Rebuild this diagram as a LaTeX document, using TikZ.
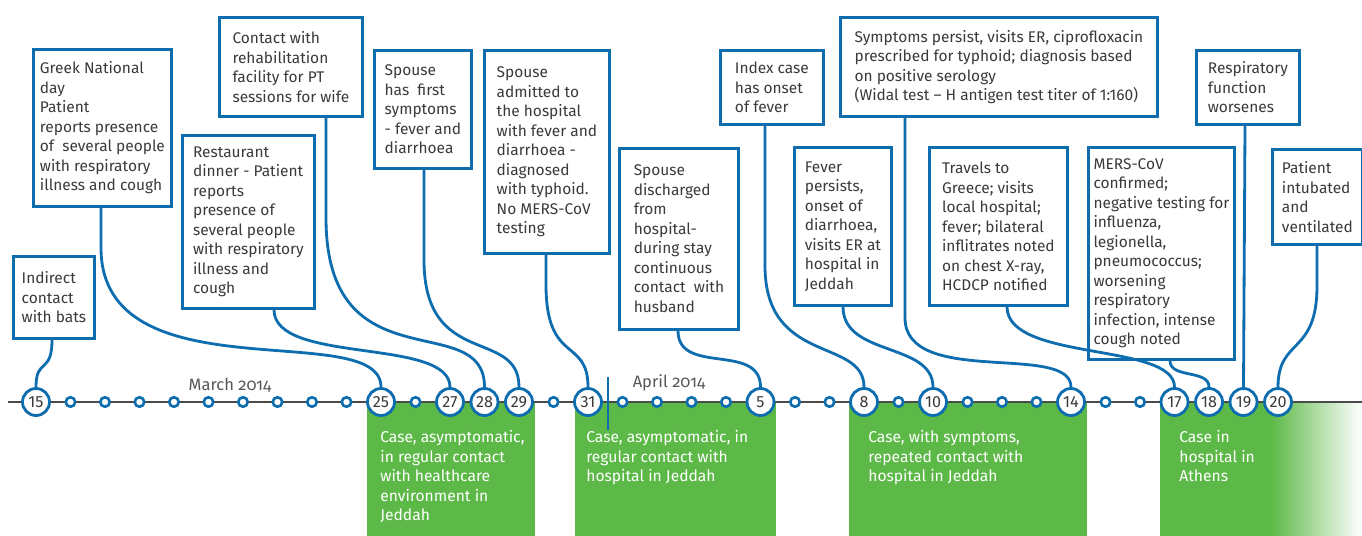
\documentclass[tikz,border=0pt]{standalone}
\usepackage{fontspec}
\setmainfont{Fira Sans}
\newfontfamily\oldstyle[Numbers=OldStyle]{Fira Sans}
\definecolor{lineblue}{HTML}{0E6DAF}
\definecolor{casegreen}{HTML}{5DB947}
\definecolor{textgrey}{HTML}{3A3A3A}
\definecolor{axisgrey}{HTML}{4A4A4A}
\tikzset{
  note/.style={
    draw=lineblue,
    line width=1.6pt,
    fill=white,
    anchor=north west,
    align=left,
    inner sep=0pt,
    text=textgrey,
    font=\fontsize{8.8}{11.1}\selectfont
  },
  boxdim/.style 2 args={minimum width=#1*0.02cm, minimum height=#2*0.02cm},
  day/.style={
    circle,
    draw=lineblue,
    fill=white,
    line width=1.6pt,
    minimum size=0.54cm,
    inner sep=0pt,
    text=textgrey,
    font=\fontsize{9.2}{11}\selectfont
  },
  smallday/.style={circle,draw=lineblue,fill=white,line width=1.5pt,minimum size=0.19cm,inner sep=0pt},
  link/.style={draw=lineblue,line width=1.6pt},
  axis/.style={draw=axisgrey,line width=1.4pt},
  period/.style={anchor=north west,align=left,inner sep=0pt,text=white,font=\fontsize{8.9}{11.1}\selectfont},
  month/.style={text=textgrey!85,font=\oldstyle\fontsize{9.4}{11}\selectfont}
}

\begin{document}
\begin{tikzpicture}[x=0.02cm,y=-0.02cm]
  \useasboundingbox (0,0) rectangle (1362,536);

  \fill[casegreen] (367,402) rectangle (535,536);
  \fill[casegreen] (575,402) rectangle (776,536);
  \fill[casegreen] (849,402) rectangle (1087,536);
  \fill[casegreen] (1160,402) rectangle (1272,536);
  \shade[left color=casegreen,right color=white] (1271,402) rectangle (1362,536);

  \node[period] (asym) at (380,430) {Case, asymptomatic,\\in regular contact\\with healthcare\\environment in\\Jeddah};
  \node[period] (regular) at (586,430) {Case, asymptomatic, in\\regular contact with\\hospital in Jeddah};
  \node[period] (symptoms) at (868,430) {Case, with symptoms,\\repeated contact with\\hospital in Jeddah};
  \node[period] (athens) at (1179,430) {Case in\\hospital in\\Athens};

  \coordinate (axisstart) at (8,402);
  \coordinate (axisend) at (1362,402);
  \draw[axis] (axisstart) -- (axisend);
  \draw[lineblue,line width=0.8pt] (608,377) -- (608,430);

  \node[month] (march) at (230,385) {March 2014};
  \node[month] (april) at (669,383) {April 2014};

  \foreach \i in {1,2,3,4,5,6,7,8,9,11,15,17,18,19,20,22,23,25,27,28,29,31,32}
    \node[smallday] at ({36+34.5*\i},402) {};
  \foreach \i/\d/\nm in {0/15/m15,10/25/m25,12/27/m27,13/28/m28,14/29/m29,16/31/m31,21/5/a5,24/8/a8,26/10/a10,30/14/a14,33/17/a17,34/18/a18,35/19/a19,36/20/a20}
    \node[day] (\nm) at ({36+34.5*\i},402) {\d};

  \node[note,boxdim={81}{82}] (bats) at (12,255) {Indirect\\contact\\with bats};
  \node[note,boxdim={138}{157}] (national) at (32,48) {Greek National\\day\\Patient\\reports presence\\of~ several people\\with respiratory\\illness and cough};
  \node[note,boxdim={143}{99}] (rehab) at (218,16) {Contact with\\rehabilitation\\facility for PT\\sessions for wife};
  \node[note,boxdim={132}{173}] (dinner) at (181,134) {Restaurant\\dinner - Patient\\reports\\presence of\\several people\\with respiratory\\illness and\\cough};
  \node[note,boxdim={97}{118}] (spouse) at (373,49) {Spouse\\has~ first\\symptoms\\- fever and\\diarrhoea};
  \node[note,boxdim={125}{203}] (admitted) at (483,49) {Spouse\\admitted to\\the hospital\\with fever and\\diarrhoea -\\diagnosed\\with typhoid.\\No MERS-CoV\\testing};
  \node[note,boxdim={119}{181}] (discharged) at (618,147) {Spouse\\discharged\\from\\hospital-\\during stay\\continuous\\contact~ with\\husband};
  \node[note,boxdim={103}{74}] (onset) at (719,49) {Index case\\has onset\\of fever};
  \node[note,boxdim={317}{99}] (typhoid) at (839,16) {Symptoms persist, visits ER, ciprofloxacin\\prescribed for typhoid; diagnosis based\\on positive serology\\(Widal test – H antigen test titer of 1:160)};
  \node[note,boxdim={97}{158}] (fever) at (793,146) {Fever\\persists,\\onset of\\diarrhoea,\\visits ER at\\hospital in\\Jeddah};
  \node[note,boxdim={138}{158}] (greece) at (928,146) {Travels to\\Greece; visits\\local hospital;\\fever; bilateral\\inflitrates noted\\on chest X-ray,\\HCDCP notified};
  \node[note,boxdim={146}{212}] (confirmed) at (1087,146) {MERS-CoV\\confirmed;\\negative testing for\\influenza,\\legionella,\\pneumococcus;\\worsening\\respiratory\\infection, intense\\cough noted};
  \node[note,boxdim={103}{74}] (worsens) at (1195,49) {Respiratory\\function\\worsenes};
  \node[note,boxdim={90}{95}] (intubated) at (1271,148) {Patient\\intubated\\and\\ventilated};

  \draw[link] (bats.south west) ++(40,0) .. controls +(0,35) and +(0,-30) .. (m15.north);
  \draw[link] (national.south west) ++(69,0) -- ++(0,40) .. controls +(0,150) and +(0,-70) .. (m25.north);
  \draw[link] (rehab.south west) ++(108,0) -- ++(0,100) .. controls +(0,170) and +(0,-80) .. (m28.north);
  \draw[link] (dinner.south west) ++(93,0) .. controls +(0,55) and +(0,-50) .. (m27.north);
  \draw[link] (spouse.south west) ++(51,0) -- ++(0,90) .. controls +(0,110) and +(0,-60) .. (m29.north);
  \draw[link] (admitted.south west) ++(63,0) -- ++(0,30) .. controls +(0,80) and +(0,-50) .. (m31.north);
  \draw[link] (discharged.south west) ++(60,0) .. controls +(0,45) and +(0,-45) .. (a5.north);
  \draw[link] (onset.south west) ++(46,0) -- ++(0,140) .. controls +(0,100) and +(0,-50) .. (a8.north);
  \draw[link] (typhoid.south west) ++(66,0) -- ++(0,200) .. controls +(0,70) and +(0,-45) .. (a14.north);
  \draw[link] (fever.south west) ++(50,0) .. controls +(0,50) and +(0,-45) .. (a10.north);
  \draw[link] (greece.south west) ++(79,0) .. controls +(0,55) and +(0,-45) .. (a17.north);
  \draw[link] (confirmed.south west) ++(83,0) .. controls +(0,18) and +(0,-18) .. (a18.north);
  \draw[link] (worsens.south west) ++(50,0) -- (a19.north);
  \draw[link] (intubated.south west) ++(46,0) -- ++(0,40) .. controls +(0,70) and +(0,-50) .. (a20.north);
\end{tikzpicture}
\end{document}
